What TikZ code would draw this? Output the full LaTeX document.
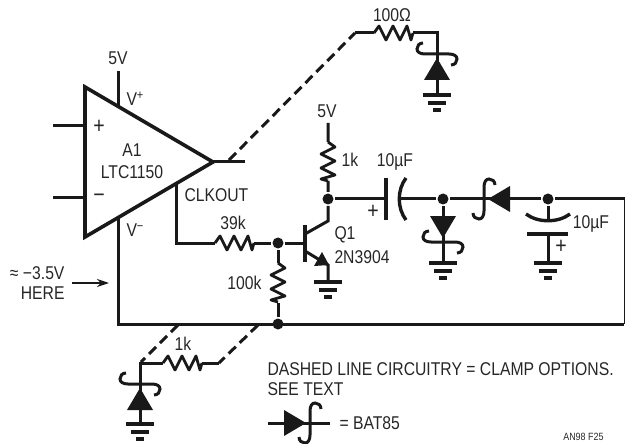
\documentclass[tikz,border=0pt]{standalone}
\usepackage{fontspec}
\setmainfont[FakeStretch=0.85]{Liberation Sans}
\usepackage{tikz}
\usetikzlibrary{arrows.meta}

\begin{document}
\begin{tikzpicture}[x=1pt, y=-1pt, line width=3pt, line join=miter]
        \tikzstyle{every node}=[inner sep=0pt, font=\fontsize{18.5}{21}\selectfont, text=black!85]
        \tikzstyle{dot}=[circle, fill=black!90, minimum size=11pt]
        \tikzstyle{wire}=[draw=black!90]
        \tikzstyle{dashwire}=[draw=black!90, dash pattern=on 10pt off 5.5pt]
        \tikzset{
            res/.pic={\draw[black!90, line width=2.8pt, line join=round] (0,0) -- (5,-7) -- (12,7) -- (19,-7) -- (26,7) -- (33,-7) -- (37,7) -- (39,0);},
            gnd/.pic={
                \draw[black!90, line width=3.2pt] (-14,0) -- (14,0);
                \draw[black!90, line width=3.2pt] (-9,8) -- (9,8);
                \draw[black!90, line width=3.2pt] (-4,15) -- (4,15);},
            schottky/.pic={
                \fill[black!90] (-22,-13) -- (0,0) -- (-22,13) -- cycle;
                \draw[black!90] (15,-14) .. controls (15,-18) and (12,-20) .. (9,-20) .. controls (6,-20) and (4,-17) .. (4,-12) -- (4,12) .. controls (4,17) and (2,20) .. (-1,20) .. controls (-4,20) and (-7,18) .. (-7,14);}
        }
        \useasboundingbox (0,0) rectangle (625,444);

        % op amp
        \coordinate (tl) at (85,87);
        \coordinate (bl) at (85,237);
        \coordinate (tip) at (213,162);
        \draw[wire, line width=3.6pt] (tl) -- (tip) -- (bl) -- cycle;
        \node (a1) at (132,150) {A1};
        \node (ltc) at (132,172) {LTC1150};
        \node (plus) at (99,127) {\fontsize{23}{23}\selectfont +};
        \node (minus) at (99,198) {\fontsize{23}{23}\selectfont −};
        \node (vp) [anchor=west] at (125,99) {V\textsuperscript{+}};
        \node (vm) [anchor=west] at (125,230) {V\textsuperscript{−}};
        \node (clk) [anchor=west] at (183,195) {CLKOUT};
        \node (fiveA) at (118,58) {5V};

        \coordinate (inp) at (53,126);
        \coordinate (inpe) at (85,126);
        \coordinate (inm) at (53,198);
        \coordinate (inme) at (85,198);
        \coordinate (vpb) at (118,71);
        \coordinate (vpe) at (118,106);
        \coordinate (vme) at (118,218);
        \coordinate (outA) at (245,162);
        \coordinate (clkt) at (176,184);
        \coordinate (clkb) at (176,243);
        \coordinate (railL) at (118,324);
        \coordinate (railR) at (624,324);
        \coordinate (topR) at (624,199);
        \draw[wire] (inp) -- (inpe) (inm) -- (inme) (vpb) -- (vpe) (tip) -- (outA);
        \draw[wire] (vme) -- (railL) -- (railR);
        \draw[wire, line width=1pt] (railR) -- (topR);

        % upper clamp
        \coordinate (dashA) at (229,160);
        \coordinate (dashB) at (355,33);
        \coordinate (r1l) at (374,33);
        \coordinate (r1r) at (413,33);
        \coordinate (d1c) at (437,33);
        \coordinate (d1t) at (437,58);
        \coordinate (g1) at (437,95);
        \draw[dashwire] (dashA) -- (dashB);
        \draw[wire] (dashB) -- (r1l) (r1r) -- (d1c) -- (d1t) -- (g1);
        \pic at (r1l) {res};
        \pic at (d1t) [rotate=90] {schottky};
        \pic at (g1) {gnd};
        \node (r1lab) at (392,15) {100Ω};

        % clock input and transistor
        \node[dot] (jb) at (278,243) {};
        \node[dot] (jr) at (278,324) {};
        \node[dot] (jc) at (328,199) {};
        \coordinate (r2l) at (215,243);
        \coordinate (r2r) at (254,243);
        \coordinate (r3t) at (278,263);
        \coordinate (r3b) at (278,303);
        \coordinate (r4t) at (328,142);
        \coordinate (r4b) at (328,181);
        \coordinate (vcc) at (328,123);
        \coordinate (bar) at (305,243);
        \coordinate (bart) at (305,225);
        \coordinate (barb) at (305,262);
        \coordinate (cin) at (305,234);
        \coordinate (cout) at (328,221);
        \coordinate (ein) at (305,251);
        \coordinate (eout) at (328,265);
        \coordinate (g2) at (328,282);
        \draw[wire] (clkt) -- (clkb) -- (r2l) (r2r) -- (jb) -- (bar);
        \draw[wire] (jb) -- (r3t) (r3b) -- (jr);
        \draw[wire] (vcc) -- (r4t) (r4b) -- (jc) -- (cout) -- (cin);
        \draw[wire, line width=3.4pt] (bart) -- (barb);
        \draw[wire] (ein) -- (eout) -- (g2);
        \fill[black!90] (329,265) -- (314,266) -- (322,252) -- cycle;
        \pic at (r2l) {res};
        \pic at (r3t) [rotate=-90] {res};
        \pic at (r4t) [rotate=-90] {res};
        \pic at (g2) {gnd};
        \node (r2lab) at (233,223) {39k};
        \node (r3lab) [anchor=east] at (263,283) {100k};
        \node (r4lab) at (350,160) {1k};
        \node (fiveB) at (327,111) {5V};
        \node (q1) [anchor=west] at (333,235) {Q1};
        \node (q1t) [anchor=west] at (333,257) {2N3904};

        % output chain
        \node[dot] (jd) at (443,199) {};
        \node[dot] (je) at (548,199) {};
        \coordinate (c1a) at (386,199);
        \coordinate (c1b) at (400,199);
        \coordinate (d2t) at (443,238);
        \coordinate (g3) at (443,263);
        \coordinate (d3t) at (488,199);
        \coordinate (c2a) at (548,220);
        \coordinate (c2b) at (548,234);
        \coordinate (g4) at (548,263);
        \coordinate (outB) at (625,199);
        \draw[wire] (jc) -- (c1a) (c1b) -- (jd) -- (d3t) (d3t) -- (je) -- (outB);
        \draw[wire, line width=3.4pt] (386,178) -- (386,220);
        \draw[wire, line width=3.4pt] (406,178) .. controls (397,190) and (397,208) .. (406,220);
        \draw[wire] (jd) -- (d2t) -- (g3);
        \pic at (d2t) [rotate=-90] {schottky};
        \pic at (g3) {gnd};
        \pic at (d3t) [rotate=180] {schottky};
        \draw[wire] (je) -- (c2a) (c2b) -- (g4);
        \draw[wire, line width=3.4pt] (526,214) .. controls (538,223) and (558,223) .. (570,214);
        \draw[wire, line width=3.4pt] (527,234) -- (568,234);
        \pic at (g4) {gnd};
        \node (c1lab) at (395,162) {10µF};
        \node (c1p) at (373,212) {\fontsize{23}{23}\selectfont +};
        \node (c2lab) at (591,224) {10µF};
        \node (c2p) at (561,247) {\fontsize{23}{23}\selectfont +};

        % lower clamp
        \coordinate (dashC) at (178,325);
        \coordinate (dashD) at (141,362);
        \coordinate (r5l) at (163,363);
        \coordinate (r5r) at (202,363);
        \coordinate (dashE) at (219,363);
        \coordinate (dashF) at (258,325);
        \coordinate (d4c) at (140,363);
        \coordinate (d4t) at (140,388);
        \coordinate (g5) at (140,424);
        \draw[dashwire] (dashC) -- (dashD);
        \draw[dashwire] (dashF) -- (dashE);
        \draw[wire] (r5r) -- (dashE) (r5l) -- (d4c) -- (d4t) -- (g5);
        \pic at (r5l) {res};
        \pic at (d4t) [rotate=90] {schottky};
        \pic at (g5) {gnd};
        \node (r5lab) at (183,344) {1k};

        % note on the rail
        \node (here1) [anchor=east] at (66,273) {≈ −3.5V};
        \node (here2) [anchor=east] at (66,293) {HERE};
        \coordinate (ha) at (72,283);
        \coordinate (hb) at (109,283);
        \draw[-{Stealth[length=12pt,width=8pt]}, draw=black!90, line width=1.2pt] (ha) -- (hb);

        % legend
        \node (note1) [anchor=west] at (266,369) {DASHED LINE CIRCUITRY = CLAMP OPTIONS.};
        \node (note2) [anchor=west] at (266,389) {SEE TEXT};
        \coordinate (la) at (268,423);
        \coordinate (lb) at (306,423);
        \coordinate (lc) at (330,423);
        \draw[wire] (la) -- (lb) -- (lc);
        \pic at (lb) {schottky};
        \node (bat) [anchor=west] at (338,423) {= BAT85};
        \node (figid) [anchor=east, font=\fontsize{10.5}{13}\selectfont] at (605,437) {AN98 F25};
    \end{tikzpicture}
\end{document}
